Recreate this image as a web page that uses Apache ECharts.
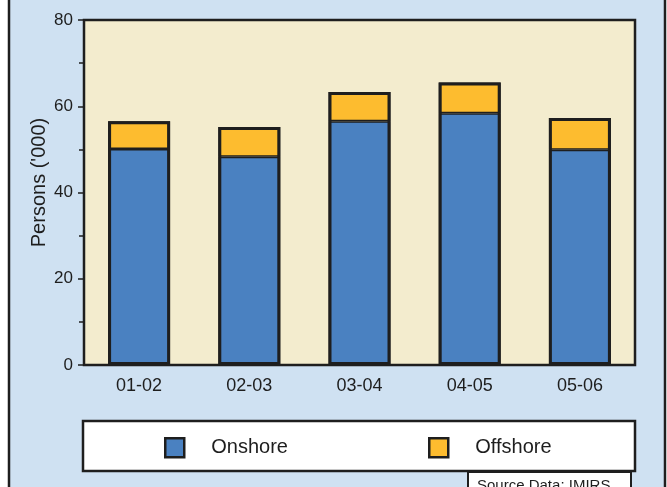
<!DOCTYPE html>
<html>
<head>
<meta charset="utf-8">
<script src="https://cdn.jsdelivr.net/npm/echarts@6/dist/echarts.min.js"></script>
<style>
html,body{margin:0;padding:0;background:#fff;}
#c{width:667px;height:487px;}
</style>
</head>
<body>
<div id="c"></div>
<script>
var categories = ['01-02', '02-03', '03-04', '04-05', '05-06'];
var onshore = [50.1, 48.3, 56.5, 58.4, 49.9];
var offshore = [6.4, 6.9, 6.8, 7.1, 7.4];
var yTicks = [0, 20, 40, 60, 80];
var seriesNames = ['Onshore', 'Offshore'];
var sourceText = 'Source Data: IMIRS';

var FONT = '"Liberation Sans", Arial, sans-serif';
var INK = '#1e1e1e';

// total height of each stacked bar, used only to draw one outline around it
var totals = onshore.map(function (v, i) { return v + offshore[i]; });

var chart = echarts.init(document.getElementById('c'), null, {renderer: 'canvas'});
chart.setOption({
  animation: false,
  backgroundColor: '#cfe1f2',
  textStyle: {fontFamily: FONT},
  grid: {
    left: 84, top: 20, right: 32, bottom: 122,
    show: true,
    backgroundColor: '#f3ecce',
    borderColor: INK,
    borderWidth: 2.5
  },
  legend: [
    {
      data: [seriesNames[0]], left: 164, top: 437, padding: 0,
      icon: 'rect', itemWidth: 19, itemHeight: 19,
      itemStyle: {borderColor: INK, borderWidth: 2.5},
      textStyle: {fontSize: 20, color: INK, fontFamily: FONT, padding: [0, 0, 0, 22]}
    },
    {
      data: [seriesNames[1]], left: 428, top: 437, padding: 0,
      icon: 'rect', itemWidth: 19, itemHeight: 19,
      itemStyle: {borderColor: INK, borderWidth: 2.5},
      textStyle: {fontSize: 20, color: INK, fontFamily: FONT, padding: [0, 0, 0, 22]}
    }
  ],
  xAxis: {
    type: 'category',
    data: categories,
    axisLine: {show: false},
    axisTick: {show: false},
    axisLabel: {fontSize: 18, color: INK, margin: 12, fontFamily: FONT},
    splitLine: {show: false}
  },
  yAxis: {
    type: 'value',
    min: yTicks[0], max: yTicks[yTicks.length - 1], interval: 20,
    name: "Persons ('000)",
    nameLocation: 'middle',
    nameGap: 35,
    nameMoveOverlap: false,
    nameTextStyle: {fontSize: 20, color: INK, fontFamily: FONT, padding: [0, 0, 0, 20]},
    axisLine: {show: false},
    axisTick: {show: true, length: 6, lineStyle: {color: INK, width: 1.5}},
    minorTick: {show: true, splitNumber: 2, length: 5, lineStyle: {color: INK, width: 1.5}},
    axisLabel: {fontSize: 17, color: INK, margin: 11, fontFamily: FONT},
    splitLine: {show: false},
    minorSplitLine: {show: false}
  },
  series: [
    {
      name: seriesNames[0], type: 'bar', stack: 'total', data: onshore,
      barWidth: 62,
      itemStyle: {color: '#4a81c1', borderColor: INK, borderWidth: 1.5}
    },
    {
      name: seriesNames[1], type: 'bar', stack: 'total', data: offshore,
      barWidth: 62,
      itemStyle: {color: '#fdbc2f', borderColor: INK, borderWidth: 1.5}
    },
    {
      name: 'outline', type: 'bar', data: totals,
      barWidth: 62, barGap: '-100%', silent: true,
      itemStyle: {color: 'transparent', borderColor: INK, borderWidth: 3},
      z: 3
    }
  ],
  graphic: [
    {type: 'rect', shape: {x: 0, y: 0, width: 8, height: 487}, style: {fill: '#ffffff'}, silent: true},
    {type: 'rect', shape: {x: 666, y: 0, width: 2, height: 487}, style: {fill: '#ffffff'}, silent: true},
    {type: 'line', shape: {x1: 9, y1: 0, x2: 9, y2: 487}, style: {stroke: INK, lineWidth: 2.5}, silent: true},
    {type: 'line', shape: {x1: 665, y1: 0, x2: 665, y2: 487}, style: {stroke: INK, lineWidth: 2.5}, silent: true},
    {type: 'rect', shape: {x: 83, y: 421, width: 552, height: 50}, style: {fill: '#ffffff', stroke: INK, lineWidth: 2.5}, silent: true, z: 0},
    {type: 'rect', shape: {x: 468, y: 472, width: 163, height: 30}, style: {fill: '#ffffff', stroke: INK, lineWidth: 2}, silent: true, z: 0},
    {type: 'text', x: 477, y: 478, style: {text: sourceText, font: '15px ' + FONT, fill: INK}, silent: true, z: 1}
  ]
});
</script>
</body>
</html>
